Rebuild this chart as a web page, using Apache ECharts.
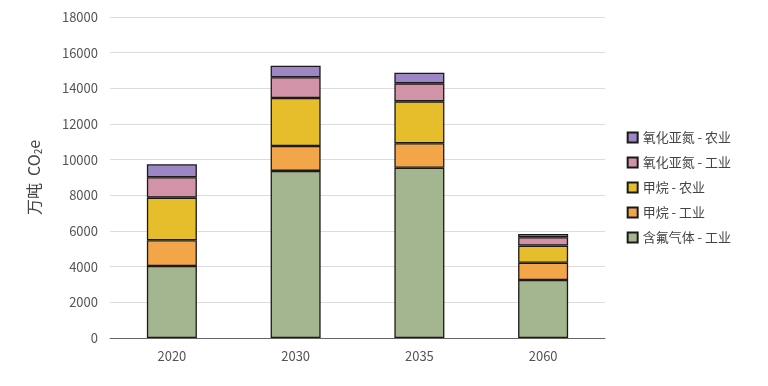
<!DOCTYPE html>
<html><head><meta charset="utf-8">
<script src="https://cdn.jsdelivr.net/npm/echarts@6/dist/echarts.min.js"></script>
<style>html,body{margin:0;padding:0;background:#fff}#c{width:768px;height:386px}</style>
</head><body><div id="c"></div>
<script>
const categories = ['2020', '2030', '2035', '2060'];
const seriesNames = ['含氟气体 - 工业', '甲烷 - 工业', '甲烷 - 农业', '氧化亚氮 - 工业', '氧化亚氮 - 农业'];
const fluorIndustry = [4040, 9370, 9550, 3250];
const methaneIndustry = [1440, 1400, 1370, 970];
const methaneAgri = [2390, 2690, 2350, 960];
const n2oIndustry = [1140, 1160, 1010, 470];
const n2oAgri = [730, 650, 600, 180];
const colors = ['#a4b690', '#f3a54a', '#e6bd2a', '#d292a7', '#9c86c4'];
const values = [fluorIndustry, methaneIndustry, methaneAgri, n2oIndustry, n2oAgri];

const chart = echarts.init(document.getElementById('c'));
chart.setOption({
  animation: false,
  textStyle: { fontFamily: '"Noto Sans CJK SC", "Noto Sans", sans-serif' },
  grid: { left: 110, right: 163, top: 17, bottom: 48 },
  legend: {
    orient: 'vertical', right: 32, top: 126,
    data: seriesNames.slice().reverse(),
    itemWidth: 10, itemHeight: 10, itemGap: 12,
    icon: 'rect',
    textStyle: { fontSize: 13, color: '#444' }
  },
  xAxis: {
    type: 'category', data: categories,
    axisLine: { lineStyle: { color: '#666', width: 1 } },
    axisTick: { show: false },
    axisLabel: { color: '#555', fontSize: 13, margin: 12 }
  },
  yAxis: {
    type: 'value', min: 0, max: 18000, interval: 2000,
    axisLabel: { color: '#555', fontSize: 13, margin: 12, formatter: v => String(v) },
    splitLine: { lineStyle: { color: '#dcdcdc' } },
    axisLine: { show: false }, axisTick: { show: false },
    name: '万吨  CO{sub|2}e',
    nameLocation: 'middle', nameGap: 67, nameRotate: 90,
    nameTextStyle: {
      fontSize: 16, color: '#444',
      rich: { sub: { fontSize: 10, color: '#444', verticalAlign: 'bottom', padding: [8, 0, 0, 0] } }
    }
  },
  series: seriesNames.map((n, i) => ({
    name: n, type: 'bar', stack: 'total', data: values[i],
    barWidth: 50,
    itemStyle: { color: colors[i], borderColor: '#1a1a1a', borderWidth: 1.3 }
  }))
});
</script></body></html>
